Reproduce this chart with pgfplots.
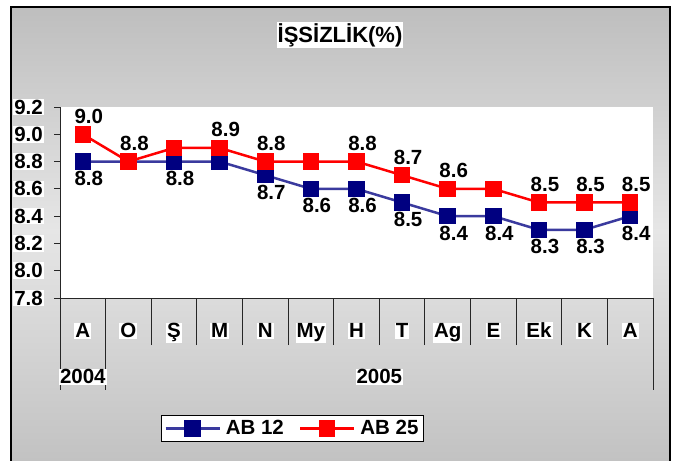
\documentclass[border=0pt]{standalone}
\usepackage{fontspec}
\setmainfont{Liberation Sans}
\usepackage{pgfplots}
\usepackage{pgfplotstable}
\pgfplotsset{compat=1.18}

\definecolor{abnavy}{HTML}{000080}
\definecolor{abline}{HTML}{3A3A9E}
\definecolor{bgtop}{HTML}{BEBEBE}
\definecolor{bgmid}{HTML}{E6E6E6}
\definecolor{bgbot}{HTML}{C2C2C2}
\newcommand\lbl{\fontsize{20.5}{24}\selectfont\bfseries}

% x = month index, y = rate, lab = printed label (empty where none shown)
\pgfplotstableread{
x y lab
0 8.8 8.8
1 8.8 {}
2 8.8 8.8
3 8.8 {}
4 8.7 8.7
5 8.6 8.6
6 8.6 8.6
7 8.5 8.5
8 8.4 8.4
9 8.4 8.4
10 8.3 8.3
11 8.3 8.3
12 8.4 8.4
}\abtwelve

\pgfplotstableread{
x y lab
0 9.0 9.0
1 8.8 8.8
2 8.9 {}
3 8.9 8.9
4 8.8 8.8
5 8.8 {}
6 8.8 8.8
7 8.7 8.7
8 8.6 8.6
9 8.6 {}
10 8.5 8.5
11 8.5 8.5
12 8.5 8.5
}\abtwentyfive

\begin{document}
\begin{tikzpicture}
\fill[white] (0pt,0pt) rectangle (676pt,461pt);
\shade[top color=bgtop, bottom color=bgmid] (11pt,230pt) rectangle (670pt,454pt);
\shade[top color=bgmid, bottom color=bgbot] (11pt,0pt) rectangle (670pt,230.5pt);
\draw[line width=1.6pt] (11pt,0pt) -- (11pt,454pt) -- (670pt,454pt) -- (670pt,0pt);
\node[fill=white, inner sep=1pt, font=\fontsize{22}{26}\selectfont\bfseries] at (340pt,426pt) {İŞSİZLİK(\%)};

\begin{axis}[
  at={(60pt,163pt)}, anchor=south west,
  scale only axis, width=593pt, height=191pt,
  xmin=-0.5, xmax=12.5, ymin=7.8, ymax=9.2,
  axis x line=bottom, axis y line=left,
  axis line style={-, line width=0.9pt, black!85},
  axis background/.style={fill=white},
  tick align=outside,
  major tick length=6pt,
  minor tick length=47pt,
  xtick={0,...,12},
  xticklabels={A,O,Ş,M,N,My,H,T,Ag,E,Ek,K,A},
  major x tick style={draw=none},
  minor xtick={-0.5,0.5,...,12.5},
  minor x tick style={line width=0.9pt, black!85},
  ytick={7.8,8,8.2,8.4,8.6,8.8,9,9.2},
  major y tick style={line width=0.9pt, black!85},
  tick label style={font=\lbl, fill=white, inner sep=1pt},
  xticklabel style={anchor=base, yshift=-34pt},
  yticklabel style={xshift=-10pt, /pgf/number format/.cd, fixed, fixed zerofill, precision=1, assume math mode=true},
  clip=false,
  legend style={at={(axis description cs:0.170,-0.6126)}, anchor=north west,
    draw=black, line width=0.9pt, fill=white, font=\lbl, inner sep=3pt,
    /tikz/every odd column/.append style={column sep=3pt},
    /tikz/every even column/.append style={column sep=13pt}},
  legend columns=2,
  legend image code/.code={\draw[#1, mark repeat=2, mark phase=2] plot coordinates {(0pt,0pt) (27pt,0pt) (54pt,0pt)};},
]
\addplot[abline, line width=2.5pt, mark=square*, mark size=7pt,
  mark options={fill=abnavy, draw=abnavy},
  nodes near coords, point meta=explicit symbolic,
  every node near coord/.append style={font=\lbl, text=black, anchor=center, xshift=6pt, yshift=-17pt}]
  table[x=x, y=y, meta=lab] {\abtwelve};
\addlegendentry{AB 12}
\addplot[red, line width=2.5pt, mark=square*, mark size=7pt,
  mark options={fill=red, draw=red},
  nodes near coords, point meta=explicit symbolic,
  every node near coord/.append style={font=\lbl, text=black, anchor=center, xshift=6pt, yshift=18pt}]
  table[x=x, y=y, meta=lab] {\abtwentyfive};
\addlegendentry{AB 25}

\draw[line width=0.9pt, black!85] (axis cs:-0.5,7.8) -- ++(0pt,-92pt);
\draw[line width=0.9pt, black!85] (axis cs:0.5,7.8) -- ++(0pt,-92pt);
\draw[line width=0.9pt, black!85] (axis cs:12.5,7.8) -- ++(0pt,-92pt);
\node[font=\lbl, fill=white, inner sep=1pt, anchor=base] at (axis cs:0,7.8) [yshift=-86pt] {2004};
\node[font=\lbl, fill=white, inner sep=1pt, anchor=base] at (axis cs:6.5,7.8) [yshift=-86pt] {2005};
\end{axis}
\end{tikzpicture}
\end{document}
